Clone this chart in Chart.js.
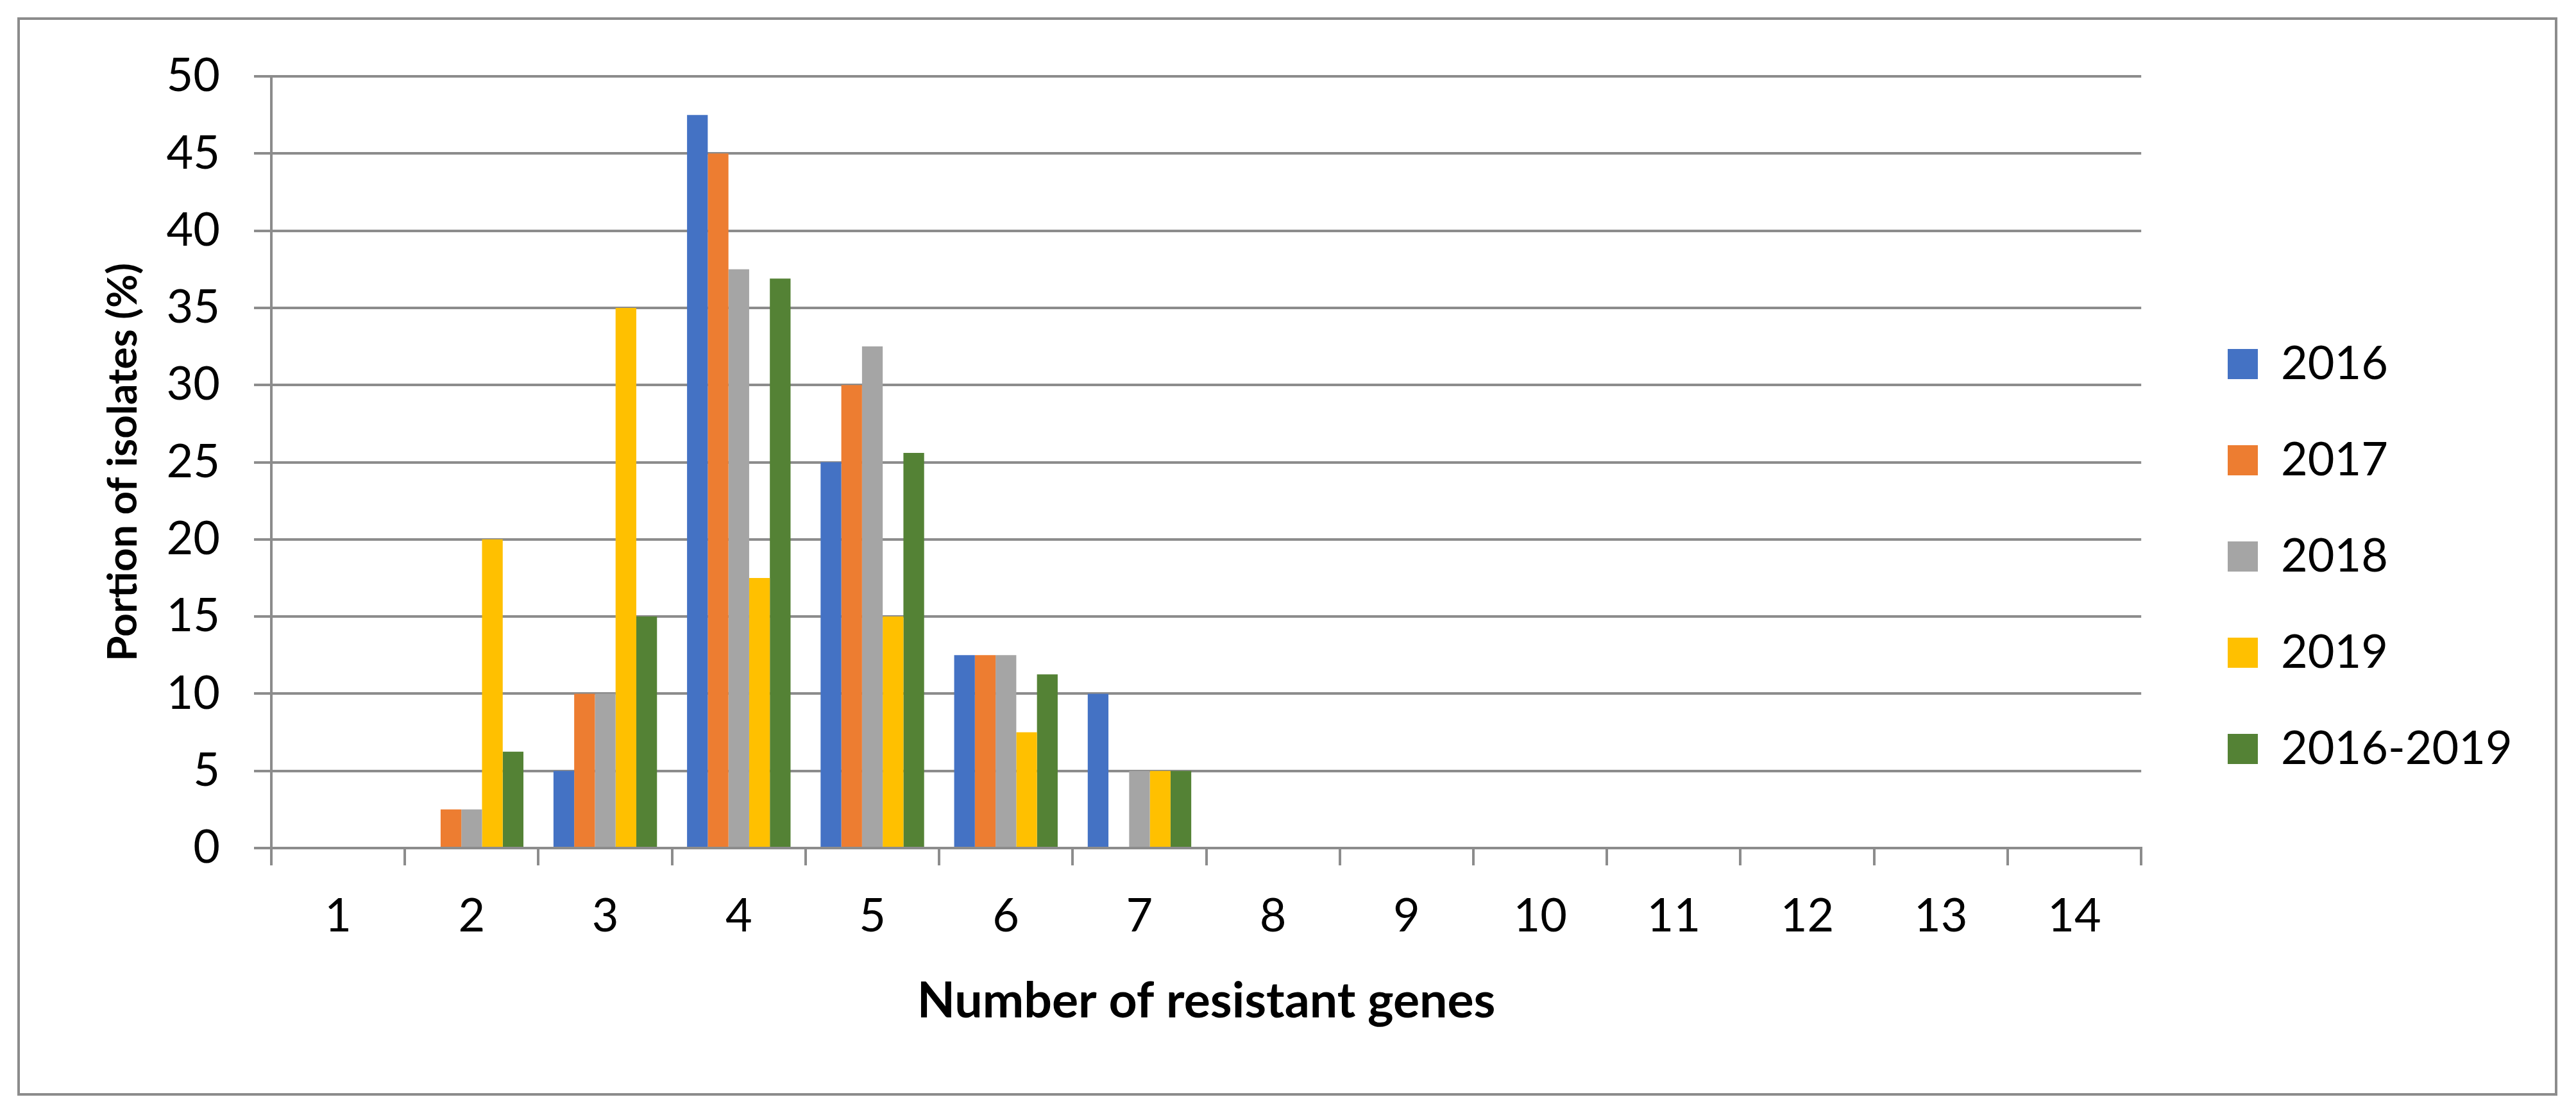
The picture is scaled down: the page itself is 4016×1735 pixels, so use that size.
<!DOCTYPE html>
<html>
<head>
<meta charset="utf-8">
<script src="https://cdn.jsdelivr.net/npm/chart.js@4.4.1/dist/chart.umd.min.js"></script>
<style>
  html, body { margin: 0; padding: 0; background: #fff; }
  #wrap { position: relative; width: 4016px; height: 1735px; }
  #frame {
    position: absolute; left: 27px; top: 27px; width: 3952px; height: 1673px;
    border: 4px solid #8c8c8c; pointer-events: none;
  }
</style>
</head>
<body>
<div id="wrap">
  <canvas id="genes"></canvas>
  <div id="frame"></div>
</div>
<script>
// number of resistant genes per isolate
const geneLabels = ['1', '2', '3', '4', '5', '6', '7', '8', '9', '10', '11', '12', '13', '14'];

const y2016 = [0, 0, 5, 47.5, 25, 12.5, 10, 0, 0, 0, 0, 0, 0, 0];
const y2017 = [0, 2.5, 10, 45, 30, 12.5, 0, 0, 0, 0, 0, 0, 0, 0];
const y2018 = [0, 2.5, 10, 37.5, 32.5, 12.5, 5, 0, 0, 0, 0, 0, 0, 0];
const y2019 = [0, 20, 35, 17.5, 15, 7.5, 5, 0, 0, 0, 0, 0, 0, 0];
const yAll = [0, 6.25, 15, 36.9, 25.6, 11.25, 5, 0, 0, 0, 0, 0, 0, 0];

const seriesNames = ['2016', '2017', '2018', '2019', '2016-2019'];
const seriesColors = ['#4472C4', '#ED7D31', '#A5A5A5', '#FFC000', '#548235'];

const yTickMax = 50;
const yTickStep = 5;

const gridGray = '#8c8c8c';
const fontFamily = 'Lato, "Noto Sans", sans-serif';

// nudges the legend column to where Excel put it
const legendShift = {
  id: 'legendShift',
  afterLayout(chart) {
    const lg = chart.legend;
    if (!lg) return;
    const dx = 3473 - (lg.left + lg.options.labels.padding);
    lg.left += dx;
    lg.right += dx;
  }
};

function drawChart()
{
    const ctx = document.getElementById('genes');
    const values = [y2016, y2017, y2018, y2019, yAll];

    let sets = [];
    seriesNames.forEach((name, i) => {
        sets.push({
            label: name,
            data: values[i],
            backgroundColor: seriesColors[i],
            borderWidth: 0,
            barPercentage: 1,
            categoryPercentage: 0.775
        });
    });

    new Chart(ctx, {
        type: 'bar',
        data: {
            labels: geneLabels,
            datasets: sets
        },
        plugins: [legendShift],
        options: {
            responsive: true,
            maintainAspectRatio: false,
            devicePixelRatio: 1,
            animation: false,
            layout: {
                padding: { top: 119, bottom: 119, left: 0, right: 146 }
            },
            plugins: {
                tooltip: { enabled: false },
                legend: {
                    position: 'right',
                    labels: {
                        boxWidth: 47,
                        boxHeight: 47,
                        padding: 78,
                        color: '#000',
                        font: { family: fontFamily, size: 72 }
                    }
                }
            },
            scales: {
                x: {
                    afterFit: (scale) => { scale.height = 1616 - 1322; },
                    grid: {
                        display: true,
                        drawOnChartArea: false,
                        drawTicks: true,
                        tickLength: 27,
                        color: gridGray,
                        lineWidth: 4
                    },
                    border: { display: true, color: gridGray, width: 4 },
                    ticks: {
                        color: '#000',
                        padding: 37,
                        font: { family: fontFamily, size: 72 }
                    },
                    title: {
                        display: true,
                        text: 'Number of resistant genes',
                        color: '#000',
                        font: { family: fontFamily, size: 77, weight: 'bold' },
                        padding: { top: 0, bottom: 9 }
                    }
                },
                y: {
                    min: 0,
                    max: yTickMax,
                    afterFit: (scale) => { scale.width = 423; },
                    grid: {
                        color: gridGray,
                        lineWidth: 4,
                        tickLength: 27
                    },
                    border: { display: true, color: gridGray, width: 4 },
                    ticks: {
                        stepSize: yTickStep,
                        color: '#000',
                        padding: 53,
                        font: { family: fontFamily, size: 72 }
                    },
                    title: {
                        display: true,
                        text: 'Portion of isolates (%)',
                        color: '#000',
                        font: { family: fontFamily, size: 64, weight: 'bold' },
                        padding: { top: 154, bottom: 0 }
                    }
                }
            }
        }
    });
}
drawChart()
</script>
</body>
</html>
